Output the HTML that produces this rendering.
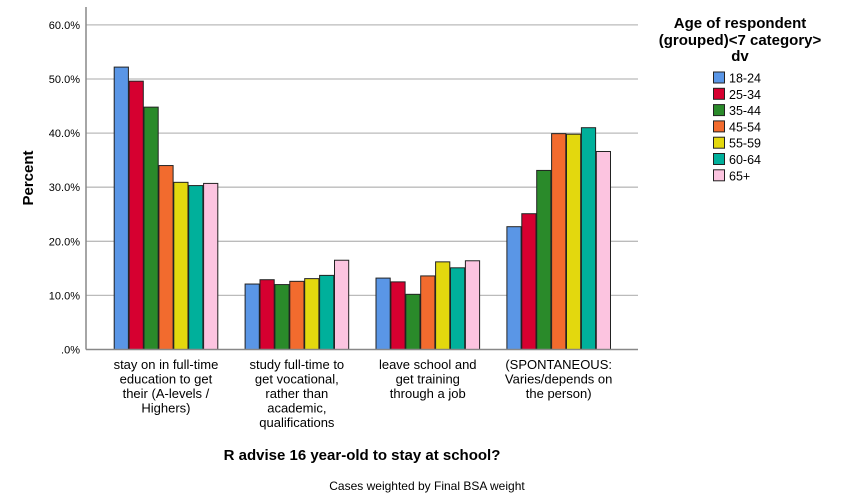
<!DOCTYPE html>
<html><head><meta charset="utf-8"><style>
body{margin:0;background:#fff;}
svg{display:block;font-family:"Liberation Sans",Arial,sans-serif;}
</style></head><body>
<svg id="chart" width="854" height="504" viewBox="0 0 854 504">
<g id="grid"></g>
<g id="bars"></g>
<g id="yticks"></g>
<g id="xticks"></g>
<line x1="86" y1="7" x2="86" y2="349.5" stroke="#888" stroke-width="1.5"/>
<line x1="86" y1="349.5" x2="638" y2="349.5" stroke="#888" stroke-width="1.5"/>
<text x="33" y="178" font-size="15" font-weight="bold" text-anchor="middle" transform="rotate(-90 33 178)">Percent</text>
<text x="362" y="460" font-size="15" font-weight="bold" text-anchor="middle">R advise 16 year-old to stay at school?</text>
<text x="427" y="490" font-size="12" text-anchor="middle">Cases weighted by Final BSA weight</text>
<g font-size="15" font-weight="bold" text-anchor="middle">
<text x="740" y="28">Age of respondent</text>
<text x="740" y="45">(grouped)&lt;7 category&gt;</text>
<text x="740" y="61">dv</text>
</g>
<g id="legend"></g>
</svg>
<script>
const categories=[["stay on in full-time","education to get","their (A-levels /","Highers)"],["study full-time to","get vocational,","rather than","academic,","qualifications"],["leave school and","get training","through a job"],["(SPONTANEOUS:","Varies/depends on","the person)"]];
const seriesNames=["18-24","25-34","35-44","45-54","55-59","60-64","65+"];
const s1824=[52.2,12.1,13.2,22.7];
const s2534=[49.6,12.9,12.5,25.1];
const s3544=[44.8,12.0,10.2,33.1];
const s4554=[34.0,12.6,13.6,39.9];
const s5559=[30.9,13.1,16.2,39.8];
const s6064=[30.3,13.7,15.1,41.0];
const s65p=[30.7,16.5,16.4,36.6];
const yTicks=[0,10,20,30,40,50,60];
const yTickLabels=[".0%","10.0%","20.0%","30.0%","40.0%","50.0%","60.0%"];
const series=[s1824,s2534,s3544,s4554,s5559,s6064,s65p];
const colors=["#5a96e6","#d60030","#2a8a2a","#f26b2e","#e3d80e","#00b09b","#fcc4e0"];
const NS="http://www.w3.org/2000/svg";
const y=v=>349.5-v*5.41;
const band=130.9, bandStart=100.5, pitch=14.9, bw=14.2;
function mk(t,a,p){const e=document.createElementNS(NS,t);for(const k in a)e.setAttribute(k,a[k]);p.appendChild(e);return e;}
const grid=document.getElementById('grid'),yt=document.getElementById('yticks');
yTicks.forEach((v,i)=>{
 if(v>0){const l=mk('line',{x1:86,x2:638,y1:y(v),y2:y(v),stroke:'#bbb','stroke-width':1.3},grid);
 
 }
 const t=mk('text',{x:80,y:y(v)+4,'font-size':11,'text-anchor':'end'},yt);t.textContent=yTickLabels[i];
 
 
});
const bars=document.getElementById('bars'),xt=document.getElementById('xticks');
categories.forEach((c,ci)=>{
 const cx=bandStart+band*(ci+0.5);
 const x0=cx-pitch*series.length/2;
 series.forEach((s,si)=>{
  const r=mk('rect',{x:x0+si*pitch+0.4,y:y(s[ci]),width:bw,height:y(0)-y(s[ci]),fill:colors[si],stroke:'#222','stroke-width':1},bars);
  
  
 });
 c.forEach((ln,li)=>{
  const t=mk('text',{x:cx,y:369+li*14.5,'font-size':13,'text-anchor':'middle'},xt);t.textContent=ln;
  
  
 });
});
const lg=document.getElementById('legend');
seriesNames.forEach((n,i)=>{
 const yy=72+i*16.3;
 const r=mk('rect',{x:713.5,y:yy,width:11,height:11,fill:colors[i],stroke:'#222','stroke-width':1},lg);
 
 
 const t=mk('text',{x:729,y:yy+10.5,'font-size':12.5},lg);t.textContent=n;
 
 
});
</script>
</body></html>
